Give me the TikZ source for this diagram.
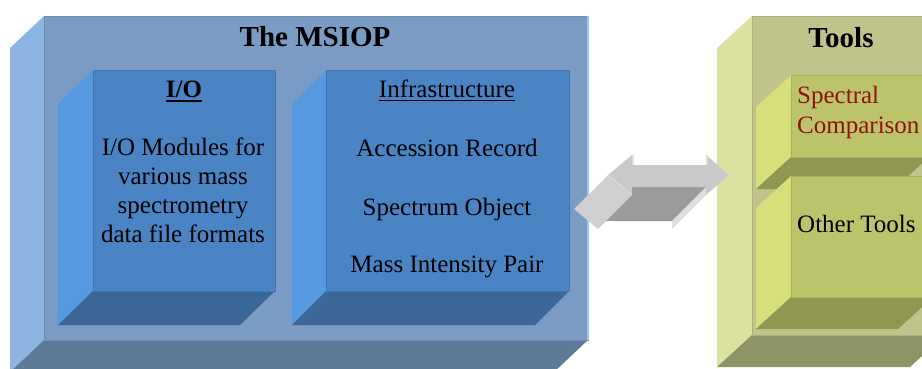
\documentclass[tikz,border=0pt]{standalone}
\usepackage{fontspec}
\setmainfont{Liberation Serif}
\definecolor{msfront}{HTML}{7A9CC4}
\definecolor{msleft}{HTML}{8DB5E2}
\definecolor{msbot}{HTML}{5D7A98}
\definecolor{infront}{HTML}{4A84C4}
\definecolor{inleft}{HTML}{559AE0}
\definecolor{inbot}{HTML}{3A6797}
\definecolor{tlfront}{HTML}{C0C38B}
\definecolor{tlleft}{HTML}{DCE0A1}
\definecolor{tlbot}{HTML}{8D9566}
\definecolor{tifront}{HTML}{BCC46B}
\definecolor{tileft}{HTML}{D6DF79}
\definecolor{tibot}{HTML}{8F9751}
\definecolor{arrfront}{HTML}{C9C9C9}
\definecolor{arrside}{HTML}{CFCFCF}
\definecolor{arrunder}{HTML}{9B9B9B}
\definecolor{arrsliver}{HTML}{DDDDDD}
\definecolor{specred}{HTML}{941010}
\newcommand\cubebox[7]{%
  \fill[#7left] (#1,#2) -- (#1,#4) -- ({#1+#5},{#4+#6}) -- ({#1+#5},{#2+#6}) -- cycle;
  \fill[#7bot] (#1,#4) -- (#3,#4) -- ({#3+#5},{#4+#6}) -- ({#1+#5},{#4+#6}) -- cycle;
  \fill[#7front] (#1,#2) rectangle (#3,#4);
  \draw[#7front!90!black, line width=0.7pt] (#1,#2) rectangle (#3,#4);
}
\tikzset{
  ttl/.style={inner sep=0pt, anchor=base, font=\fontsize{29}{33}\selectfont\bfseries},
  body/.style={inner sep=0pt, anchor=base, font=\fontsize{25}{29}\selectfont},
  bodyl/.style={body, anchor=base west},
  uline/.style={line width=2.4pt}
}
\begin{document}
\begin{tikzpicture}[x=1pt,y=-1pt]
\useasboundingbox (0,0) rectangle (922,369);
\clip (0,0) rectangle (922,369);
% MSIOP outer box
\cubebox{44}{16}{588}{340}{-34}{32}{ms}
\draw[msleft!80!white, line width=1.5pt] (588,16) -- (588,340);
% inner boxes
\cubebox{93}{70}{275}{291}{-35}{34}{in}
\cubebox{326}{70}{569}{291}{-34}{34}{in}
% Tools outer box
\cubebox{752}{16}{945}{335}{-35}{32}{tl}
\cubebox{791}{75}{929}{157}{-35}{32}{ti}
\cubebox{791}{176}{933}{297}{-35}{32}{ti}
% double arrow
\fill[arrunder] (632,187) -- (706,187) -- (672,221) -- (598,221) -- cycle;
\fill[arrside] (608,175) -- (632,195) -- (598,229) -- (574,209) -- cycle;
\fill[arrsliver] (706,187) -- (706,195) -- (672,229) -- (672,221) -- cycle;
\fill[arrfront] (608,175) -- (632,155) -- (632,165) -- (706,165) -- (706,155)
  -- (729,175) -- (706,195) -- (706,187) -- (632,187) -- (632,195) -- cycle;
\draw[arrsliver, line width=1.2pt] (633,155) -- (633,165) (707,155) -- (707,165);
\draw[arrsliver, line width=0.8pt] (608,175) -- (632,195);
% titles
\node[ttl] (msiop) at (315,47) {The MSIOP};
\node[ttl] (tools) at (841,48) {Tools};
% I/O box text
\node[body] (iohead) at (184,98) {\bfseries I/O};
\draw[uline] ([yshift=-3pt]iohead.base west) -- ([yshift=-3pt]iohead.base east);
\node[body] (io1) at (183,155) {I/O Modules for};
\node[body] (io2) at (183,184) {various mass};
\node[body] (io3) at (183,213) {spectrometry};
\node[body] (io4) at (183,242) {data file formats};
% Infrastructure box text
\node[body] (infra) at (447,98) {Infrastructure};
\draw[line width=1.8pt] ([yshift=-2.5pt]infra.base west) -- ([yshift=-2.5pt]infra.base east);
\node[body] (acc) at (447,156) {Accession Record};
\node[body] (spo) at (447,215) {Spectrum Object};
\node[body] (mip) at (447,272) {Mass Intensity Pair};
% Tools text
\node[bodyl, text=specred] (spec1) at (797,103) {Spectral};
\node[bodyl, text=specred] (spec2) at (797,133) {Comparison};
\node[bodyl] (other) at (797,232) {Other Tools};
\end{tikzpicture}
\end{document}
